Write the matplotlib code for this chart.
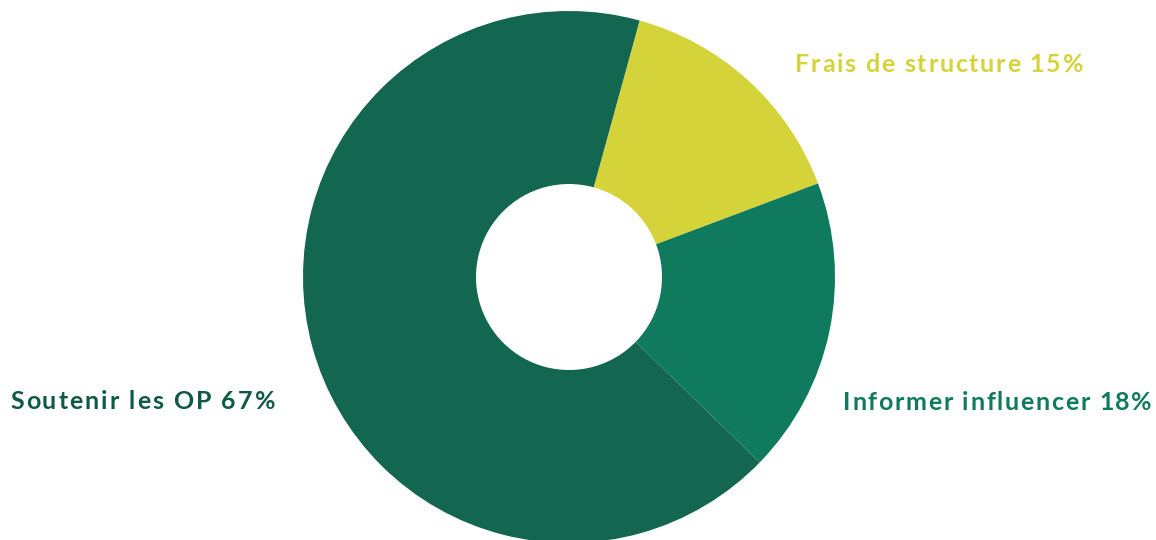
import matplotlib
matplotlib.use("Agg")
import matplotlib.pyplot as plt

labels = ["Frais de structure", "Informer influencer", "Soutenir les OP"]
values = [15, 18, 67]
colors = ["#D4D33A", "#107A5F", "#136650"]
text_colors = ["#D4D33A", "#107A5F", "#0F5A45"]

W, H = 1156, 540
fig = plt.figure(figsize=(W / 100, H / 100), dpi=100)
ax = fig.add_axes([0, 0, 1, 1])
ax.set_xlim(0, W)
ax.set_ylim(0, H)
ax.set_aspect("equal")
ax.axis("off")

cx, cy, R = 569, H - 277, 266
r_in = 93
ax.pie(values, colors=colors, startangle=74.6, counterclock=False,
       center=(cx, cy), radius=R, frame=True,
       wedgeprops=dict(width=R - r_in, linewidth=0))
ax.set_xlim(0, W)
ax.set_ylim(0, H)
ax.axis("off")

renderer = fig.canvas.get_renderer()
font = dict(fontsize=18, fontweight="bold", family="Lato")


def text_width(s):
    if not s:
        return 0.0
    t = ax.text(0, 0, s, **font)
    w = t.get_window_extent(renderer).width
    t.remove()
    return w


def tracked_text(x, y, s, target_w, color):
    natural = text_width(s)
    n = len(s)
    track = (target_w - natural) / max(n - 1, 1)
    for i, ch in enumerate(s):
        if ch == " ":
            continue
        xi = x + text_width(s[:i].replace(" ", "\u00a0")) + i * track
        ax.text(xi, y, ch, color=color, ha="left", va="baseline", **font)


positions = [(795, 72), (843, 410), (10, 409)]
widths = [288, 309, 265]
for lab, v, c, (x, y), tw in zip(labels, values, text_colors, positions, widths):
    tracked_text(x, H - y, f"{lab} {v}%", tw, c)

fig.savefig("out.png", dpi=100)
